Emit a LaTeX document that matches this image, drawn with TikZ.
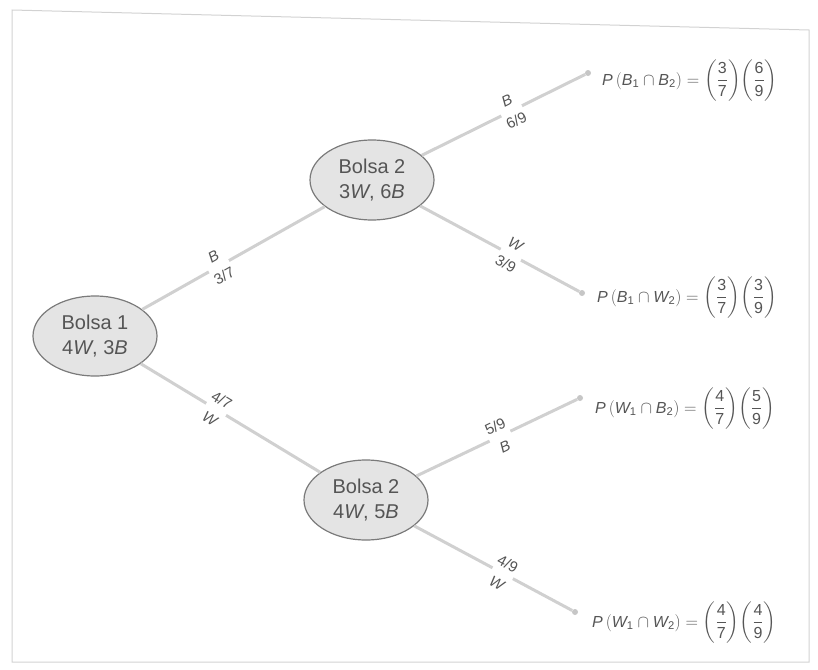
\documentclass[tikz,border=0pt]{standalone}
\usepackage{amsmath}
\usepackage{fontspec}
\setmainfont{Liberation Sans}
\usetikzlibrary{shapes.geometric}
\definecolor{txt}{HTML}{555555}
\definecolor{edgecol}{HTML}{D0D0D0}
\definecolor{bagfill}{HTML}{E4E4E4}
\definecolor{bagline}{HTML}{7A7A7A}
\newcommand{\fr}[2]{\left(\dfrac{\text{#1}}{\text{#2}}\right)}
\begin{document}
\begin{tikzpicture}[x=1pt,y=-1pt,
  bag/.style={ellipse,draw=bagline,fill=bagfill,line width=1.2pt,minimum width=124pt,minimum height=80pt,inner sep=0pt,align=center,text=txt,font=\fontsize{20}{25}\selectfont},
  branch/.style={draw=edgecol,line width=3pt},
  elab/.style={sloped,fill=white,inner sep=1pt,align=center,text=txt,font=\fontsize{15}{22}\selectfont},
  enddot/.style={circle,fill=gray!45,inner sep=0pt,minimum size=6pt},
  result/.style={anchor=base west,text=txt,inner sep=0pt,font=\fontsize{16}{20}\selectfont}
]
\useasboundingbox (0,0) rectangle (818,669);
\draw[gray!35,line width=1pt] (12,10) -- (809,30) -- (809,662) -- (12,662) -- cycle;

\node[bag] (b1) at (95,336) {Bolsa 1\\4\textit{W}, 3\textit{B}};
\node[bag] (b2t) at (372,180) {Bolsa 2\\3\textit{W}, 6\textit{B}};
\node[bag] (b2b) at (366,500) {Bolsa 2\\4\textit{W}, 5\textit{B}};

\node[enddot] (e1) at (588,73) {};
\node[enddot] (e2) at (582,293) {};
\node[enddot] (e3) at (580,398) {};
\node[enddot] (e4) at (575,612) {};

\path[branch] (b1) -- node[elab,pos=0.42] {\textit{B}\\3/7} (b2t);
\path[branch] (b1) -- node[elab,pos=0.42] {4/7\\\textit{W}} (b2b);
\path[branch] (b2t) -- node[elab,pos=0.55] {\textit{B}\\6/9} (e1);
\path[branch] (b2t) -- node[elab,pos=0.57] {\textit{W}\\3/9} (e2);
\path[branch] (b2b) -- node[elab,pos=0.52] {5/9\\\textit{B}} (e3);
\path[branch] (b2b) -- node[elab,pos=0.56] {4/9\\\textit{W}} (e4);

\node[result] (r1) at (602,85) {$\textit{P}\,(\textit{B}_{\text{1}}\cap \textit{B}_{\text{2}}) = \fr{3}{7}\!\fr{6}{9}$};
\node[result] (r2) at (597,302) {$\textit{P}\,(\textit{B}_{\text{1}}\cap \textit{W}_{\text{2}}) = \fr{3}{7}\!\fr{3}{9}$};
\node[result] (r3) at (595,413) {$\textit{P}\,(\textit{W}_{\text{1}}\cap \textit{B}_{\text{2}}) = \fr{4}{7}\!\fr{5}{9}$};
\node[result] (r4) at (592,627) {$\textit{P}\,(\textit{W}_{\text{1}}\cap \textit{W}_{\text{2}}) = \fr{4}{7}\!\fr{4}{9}$};
\end{tikzpicture}
\end{document}
